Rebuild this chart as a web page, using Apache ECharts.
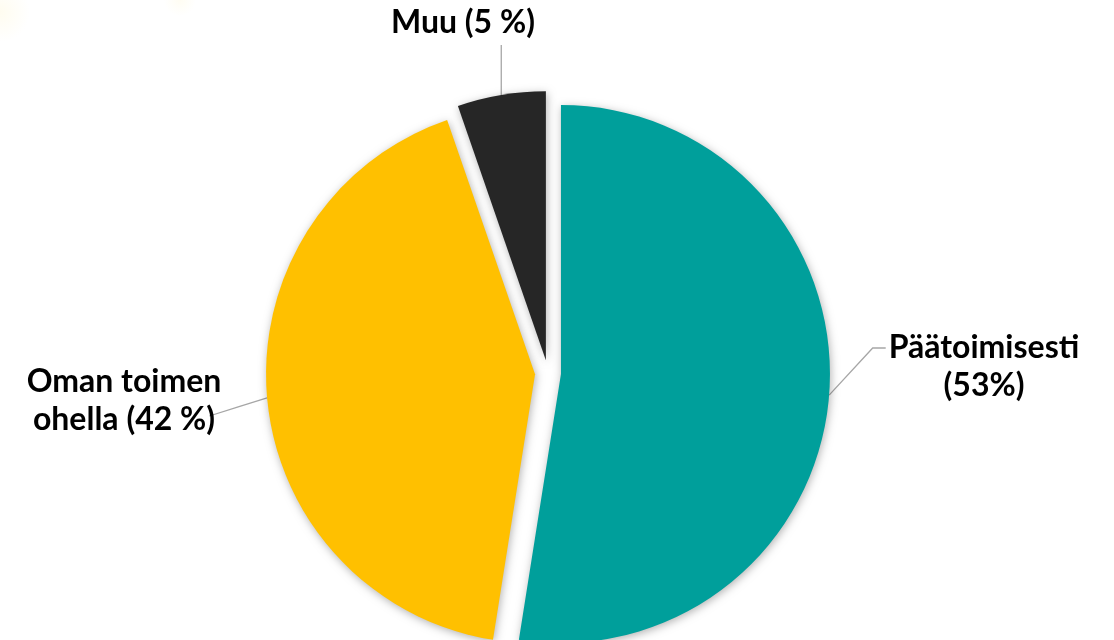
<!DOCTYPE html>
<html>
<head>
<meta charset="utf-8">
<script src="https://cdn.jsdelivr.net/npm/echarts@6/dist/echarts.min.js"></script>
<style>
html,body{margin:0;padding:0;background:#ffffff;}
#chart{width:1114px;height:640px;}
</style>
</head>
<body>
<div id="chart"></div>
<script>
// Data
const categories = ['Päätoimisesti', 'Oman toimen ohella', 'Muu'];
const values = [52.5, 42.2, 5.3];
const labelTexts = ['Päätoimisesti\n(53%)', 'Oman toimen\nohella (42 %)', 'Muu (5 %)'];
const colors = ['#009F9B', '#FFC000', '#262626'];

// Layout
const baseCenter = [548, 373];
const pieRadius = 269;
const explode = 13;
const labelPos = [[984, 367], [124, 401], [463, 23]];

const chart = echarts.init(document.getElementById('chart'), null, {renderer: 'canvas'});

const total = values.reduce((a, b) => a + b, 0);
let cum = 0;
const series = values.map((v, i) => {
  const mid = (cum + v / 2) / total * Math.PI * 2;
  cum += v;
  const c = [baseCenter[0] + explode * Math.sin(mid), baseCenter[1] - explode * Math.cos(mid)];
  return {
    type: 'pie',
    center: c,
    radius: pieRadius,
    startAngle: 90,
    clockwise: true,
    avoidLabelOverlap: false,
    emphasis: {disabled: true, scale: false},
    silent: true,
    label: {
      show: true,
      position: 'outside',
      formatter: p => labelTexts[p.dataIndex],
      fontFamily: 'Lato',
      fontWeight: 'bold',
      fontSize: 32,
      color: '#000000',
      lineHeight: 38,
      align: 'center'
    },
    labelLine: {
      show: true,
      length: 20,
      length2: 12,
      lineStyle: {color: '#A6A6A6', width: 1.3}
    },
    labelLayout: function (params) {
      if (params.dataIndex !== i) return {};
      const p = labelPos[i];
      const w = params.labelRect.width;
      const h = params.labelRect.height;
      const pts = params.labelLinePoints;
      const start = pts ? pts[0] : [p[0], p[1]];
      let line;
      if (i === 0) {
        const end = [p[0] - w / 2 - 3, p[1] - h / 2 + 19];
        line = [start, [end[0] - 13, end[1]], end];
      } else if (i === 1) {
        const end = [p[0] + w / 2 - 12, p[1] + 15];
        line = [start, [(start[0] + end[0]) / 2, (start[1] + end[1]) / 2], end];
      } else {
        const end = [start[0], p[1] + h / 2 + 3];
        line = [start, [start[0], (start[1] + end[1]) / 2], end];
      }
      return {x: p[0], y: p[1], align: 'center', verticalAlign: 'middle', labelLinePoints: line};
    },
    data: categories.map((name, k) => k === i ? {
      name: name,
      value: values[k],
      itemStyle: {
        color: colors[k],
        shadowBlur: 8,
        shadowColor: 'rgba(0,0,0,0.3)',
        shadowOffsetX: 1,
        shadowOffsetY: 2
      }
    } : {
      name: name,
      value: values[k],
      itemStyle: {color: 'rgba(0,0,0,0)', shadowBlur: 0, shadowColor: 'rgba(0,0,0,0)'},
      label: {show: false},
      labelLine: {show: false}
    })
  };
});

chart.setOption({
  animation: false,
  backgroundColor: '#ffffff',
  graphic: [
    {type: 'ellipse', silent: true, z: -10, shape: {cx: 0, cy: 12, rx: 30, ry: 36},
      style: {fill: new echarts.graphic.RadialGradient(0.5, 0.5, 0.5, [
        {offset: 0, color: 'rgba(255,240,170,0.18)'}, {offset: 1, color: 'rgba(255,240,170,0)'}])}},
    {type: 'ellipse', silent: true, z: -10, shape: {cx: 180, cy: 0, rx: 65, ry: 16},
      style: {fill: new echarts.graphic.RadialGradient(0.5, 0.5, 0.5, [
        {offset: 0, color: 'rgba(255,240,170,0.15)'}, {offset: 1, color: 'rgba(255,240,170,0)'}])}}
  ],
  series: series
});
</script>
</body>
</html>
